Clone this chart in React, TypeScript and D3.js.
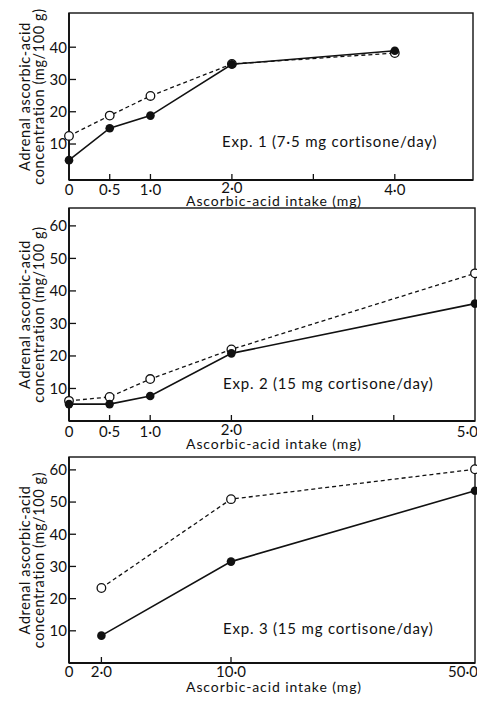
import React from "react";
import * as d3 from "d3";

// ---- Data ----
const exp1Intake = [0, 0.5, 1, 2, 4];
const exp1Open = [12.5, 18.8, 24.9, 34.8, 38.2];
const exp1Filled = [5.0, 14.9, 18.8, 34.7, 38.9];

const exp2Intake = [0, 0.5, 1, 2, 5];
const exp2Open = [6.2, 7.4, 12.9, 22.0, 45.4];
const exp2Filled = [5.2, 5.2, 7.7, 20.8, 36.1];

const exp3Intake = [2, 10, 50];
const exp3Open = [23.3, 50.9, 60.2];
const exp3Filled = [8.5, 31.5, 53.5];

const exp1XTicks = [0, 0.5, 1, 2, 3, 4];
const exp1XLabels = ["0", "0·5", "1·0", "2·0", "", "4·0"];
const exp2XTicks = [0, 0.5, 1, 2, 3, 4, 5];
const exp2XLabels = ["0", "0·5", "1·0", "2·0", "", "", "5·0"];
const exp3XTicks = [0, 2, 10, 50];
const exp3XLabels = ["0", "2·0", "10·0", "50·0"];

const exp1YTicks = [10, 20, 30, 40];
const exp2YTicks = [10, 20, 30, 40, 50, 60];
const exp3YTicks = [10, 20, 30, 40, 50, 60];

const exp1Title = "Exp. 1 (7·5 mg cortisone/day)";
const exp2Title = "Exp. 2 (15 mg cortisone/day)";
const exp3Title = "Exp. 3 (15 mg cortisone/day)";

const yLabel1 = "Adrenal ascorbic-acid";
const yLabel2 = "concentration (mg/100 g)";
const xLabel = "Ascorbic-acid intake (mg)";

const FONT = "Lato, 'Open Sans', sans-serif";
const INK = "#111";

type PanelProps = {
  x: d3.ScaleLinear<number, number>;
  y: d3.ScaleLinear<number, number>;
  intake: number[];
  open: number[];
  filled: number[];
  xTicks: number[];
  xLabels: string[];
  yTicks: number[];
  title: string;
  titleX: number;
  titleY: number;
  tickLabelY: number;
  xTitleY: number;
  raisedTick: number;
  lastLabelEnd?: boolean;
};

function Panel(p: PanelProps) {
  const r = p.x.range();
  const x0 = r[0];
  const x1 = r[r.length - 1];
  const [yb, yt] = p.y.range();
  const line = d3
    .line<[number, number]>()
    .x((d) => p.x(d[0]))
    .y((d) => p.y(d[1]));
  const openPts: [number, number][] = p.intake.map((v, i) => [v, p.open[i]]);
  const filledPts: [number, number][] = p.intake.map((v, i) => [v, p.filled[i]]);
  const cy = (yb + yt) / 2;
  return (
    <g>
      {/* frame */}
      <rect x={x0} y={yt} width={x1 - x0} height={yb - yt} fill="none" stroke={INK} strokeWidth={1.4} />
      <line x1={x0} x2={x1} y1={yb} y2={yb} stroke={INK} strokeWidth={2} />
      <line x1={x0} x2={x0} y1={yt} y2={yb} stroke={INK} strokeWidth={1.8} />
      {/* y ticks */}
      {p.yTicks.map((t) => (
        <g key={"y" + t}>
          <line x1={x0} x2={x0 + 7} y1={p.y(t)} y2={p.y(t)} stroke={INK} strokeWidth={1.3} />
          <text x={x0 - 2} y={p.y(t)} dy="0.36em" textAnchor="end" fontSize={15} fontFamily={FONT} fill={INK}>
            {t}
          </text>
        </g>
      ))}
      {/* x ticks */}
      {p.xTicks.map((t, i) => (
        <g key={"x" + t}>
          {t > 0 && p.x(t) < x1 - 2 && (
            <line x1={p.x(t)} x2={p.x(t)} y1={yb} y2={yb - 6} stroke={INK} strokeWidth={1.3} />
          )}
          {p.xLabels[i] && (
            <text
              x={p.lastLabelEnd && i === p.xTicks.length - 1 ? 478 : p.x(t)}
              y={p.tickLabelY - (t === p.raisedTick ? 2 : 0)}
              textAnchor={p.lastLabelEnd && i === p.xTicks.length - 1 ? "end" : "middle"}
              fontSize={15}
              fontFamily={FONT}
              fill={INK}
            >
              {p.xLabels[i]}
            </text>
          )}
        </g>
      ))}
      {/* axis titles */}
      <text
        x={274}
        y={p.xTitleY}
        textAnchor="middle"
        fontSize={14}
        letterSpacing={0.9}
        fontFamily={FONT}
        fill={INK}
      >
        {xLabel}
      </text>
      <text
        transform={`translate(30,${cy}) rotate(-90)`}
        textAnchor="middle"
        fontSize={14.5}
        letterSpacing={0.6}
        fontFamily={FONT}
        fill={INK}
      >
        {yLabel1}
      </text>
      <text
        transform={`translate(44,${cy}) rotate(-90)`}
        textAnchor="middle"
        fontSize={14.5}
        letterSpacing={0.6}
        fontFamily={FONT}
        fill={INK}
      >
        {yLabel2}
      </text>
      {/* series */}
      <path d={line(openPts) || ""} fill="none" stroke={INK} strokeWidth={1.3} strokeDasharray="4,3" />
      <path d={line(filledPts) || ""} fill="none" stroke={INK} strokeWidth={1.6} />
      {openPts.map((d, i) => (
        <circle key={"o" + i} cx={p.x(d[0])} cy={p.y(d[1])} r={4.3} fill="#fff" stroke={INK} strokeWidth={1.3} />
      ))}
      {filledPts.map((d, i) => (
        <circle key={"f" + i} cx={p.x(d[0])} cy={p.y(d[1])} r={4.3} fill={INK} />
      ))}
      <text x={p.titleX} y={p.titleY} fontSize={15} letterSpacing={0.8} fontFamily={FONT} fill={INK}>
        {p.title}
      </text>
    </g>
  );
}

export default function App() {
  const x1 = d3.scaleLinear().domain([0, 4.96]).range([69, 473]);
  const y1 = d3.scaleLinear().domain([-1.15, 50.6]).range([180, 13]);
  const x2 = d3.scaleLinear().domain([0, 5]).range([69, 475]);
  const y2 = d3.scaleLinear().domain([0, 65.5]).range([421, 208]);
  const x3 = d3.scaleLinear().domain([0, 10, 50]).range([69, 231, 475]);
  const y3 = d3.scaleLinear().domain([0, 64]).range([663, 457]);
  return (
    <svg
      width={477}
      height={705}
      style={{ position: "absolute", left: 0, top: 0, background: "#fff" }}
    >
      <rect width={477} height={705} fill="#fff" />
      <Panel
        x={x1}
        y={y1}
        intake={exp1Intake}
        open={exp1Open}
        filled={exp1Filled}
        xTicks={exp1XTicks}
        xLabels={exp1XLabels}
        yTicks={exp1YTicks}
        title={exp1Title}
        titleX={222}
        titleY={147}
        tickLabelY={195}
        xTitleY={206}
        raisedTick={2}
      />
      <Panel
        x={x2}
        y={y2}
        intake={exp2Intake}
        open={exp2Open}
        filled={exp2Filled}
        xTicks={exp2XTicks}
        xLabels={exp2XLabels}
        yTicks={exp2YTicks}
        title={exp2Title}
        titleX={223}
        titleY={389}
        tickLabelY={437}
        xTitleY={449}
        raisedTick={2}
        lastLabelEnd
      />
      <Panel
        x={x3}
        y={y3}
        intake={exp3Intake}
        open={exp3Open}
        filled={exp3Filled}
        xTicks={exp3XTicks}
        xLabels={exp3XLabels}
        yTicks={exp3YTicks}
        title={exp3Title}
        titleX={223}
        titleY={634}
        tickLabelY={677}
        xTitleY={692}
        raisedTick={-1}
        lastLabelEnd
      />
    </svg>
  );
}
